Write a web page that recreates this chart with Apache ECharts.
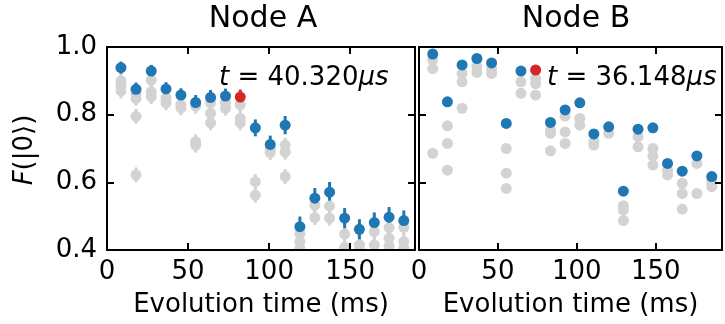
<!DOCTYPE html>
<html>
<head>
<meta charset="utf-8">
<script src="https://cdn.jsdelivr.net/npm/echarts@6/dist/echarts.min.js"></script>
<style>
html,body{margin:0;padding:0;background:#fff;}
#chart{width:725px;height:324px;}
</style>
</head>
<body>
<div id="chart"></div>
<script>
// ---------------- data ----------------
const titles = ['Node A', 'Node B'];
const xName = 'Evolution time (ms)';
const xTicks = [0, 50, 100, 150];
const yTicks = [0.4, 0.6, 0.8, 1.0];
const annotA = ['t', ' = 40.320', 'μs'];
const annotB = ['t', ' = 36.148', 'μs'];

const timesA = [8.6, 17.9, 27.3, 36.4, 45.6, 54.7, 63.9, 73.1, 82.2, 91.5, 100.7, 109.9, 119.0, 128.2, 137.3, 146.6, 155.7, 164.9, 174.0, 183.1];
const blueA = [0.939, 0.875, 0.929, 0.876, 0.858, 0.836, 0.851, 0.855, 0.852, 0.761, 0.712, 0.769, 0.469, 0.553, 0.571, 0.494, 0.461, 0.481, 0.497, 0.487];
const blueErrA = [0.018, 0.02, 0.018, 0.02, 0.02, 0.022, 0.022, 0.022, 0.022, 0.025, 0.026, 0.027, 0.03, 0.03, 0.03, 0.03, 0.03, 0.03, 0.03, 0.03];
const redIndexA = 8;
const grayA = [
  [0.900, 0.885, 0.870],
  [0.862, 0.848, 0.795, 0.622],
  [0.902, 0.868, 0.853],
  [0.850, 0.835],
  [0.830, 0.820],
  [0.825, 0.720, 0.710],
  [0.835, 0.804, 0.776],
  [0.836, 0.819],
  [0.830, 0.789, 0.776],
  [0.602, 0.562],
  [0.700, 0.688],
  [0.710, 0.689, 0.617],
  [0.449, 0.425, 0.405],
  [0.533, 0.496],
  [0.530, 0.494],
  [0.447, 0.408],
  [0.415, 0.400],
  [0.454, 0.415],
  [0.466, 0.435, 0.412],
  [0.467, 0.425, 0.405]
];
const grayErrA = 0.022;

const timesB = [8.7, 18.0, 27.3, 36.7, 46.0, 55.3, 64.6, 73.9, 83.3, 92.6, 101.9, 110.8, 120.2, 129.5, 138.8, 148.2, 157.5, 166.8, 176.1, 185.5];
const blueB = [0.979, 0.838, 0.947, 0.966, 0.953, 0.774, 0.929, 0.932, 0.777, 0.814, 0.835, 0.743, 0.764, 0.574, 0.757, 0.761, 0.656, 0.633, 0.678, 0.617];
const redIndexB = 7;
const grayB = [
  [0.962, 0.936, 0.686],
  [0.767, 0.715, 0.636],
  [0.922, 0.897, 0.819],
  [0.942, 0.925],
  [0.935, 0.922],
  [0.700, 0.627, 0.582],
  [0.897, 0.863],
  [0.907, 0.892, 0.858],
  [0.755, 0.745, 0.693],
  [0.796, 0.749, 0.715],
  [0.789, 0.769],
  [0.720, 0.710],
  [0.745],
  [0.531, 0.518, 0.487],
  [0.735, 0.705],
  [0.700, 0.678, 0.651],
  [0.636, 0.622],
  [0.597, 0.567, 0.521],
  [0.656, 0.567],
  [0.602, 0.587]
];

// ---------------- styles ----------------
const FONT = 'DejaVu Sans';
const BLUE = '#1f77b4', RED = '#d62728', GRAY = '#d3d3d3';
const MS = 11;
const chart = echarts.init(document.getElementById('chart'), null, {renderer: 'canvas'});

function lineAxisCommon() {
  return {
    axisLine: {show: true, onZero: false, lineStyle: {color: '#000', width: 2}},
    axisTick: {show: true, inside: true, length: 7, lineStyle: {color: '#000', width: 2}},
    splitLine: {show: false},
    z: 10
  };
}
function xAx(grid, max, pos, showLabel) {
  return Object.assign(lineAxisCommon(), {
    type: 'value', gridIndex: grid, position: pos, min: 0, max: max, interval: 50,
    axisLabel: {show: showLabel, margin: 9, fontSize: 26, fontFamily: FONT, color: '#000',
      formatter: v => (xTicks.indexOf(Math.round(v)) >= 0 && Math.abs(v - Math.round(v)) < 1e-6) ? String(Math.round(v)) : ''},
    name: showLabel ? xName : '', nameLocation: 'middle', nameGap: 42,
    nameTextStyle: {fontSize: 26, fontFamily: FONT, color: '#000'}
  });
}
function yAx(grid, pos, showLabel) {
  return Object.assign(lineAxisCommon(), {
    type: 'value', gridIndex: grid, position: pos, min: yTicks[0], max: yTicks[yTicks.length - 1], interval: 0.2,
    axisLabel: {show: showLabel, margin: 10, fontSize: 26, fontFamily: FONT, color: '#000', formatter: v => v.toFixed(1)}
  });
}

function errRender(params, api) {
  const x = api.value(0), lo = api.value(1), hi = api.value(2);
  const p1 = api.coord([x, hi]);
  const p2 = api.coord([x, lo]);
  const cs = params.coordSys;
  const r = echarts.graphic.clipRectByRect(
    {x: p1[0] - 1.5, y: p1[1], width: 3, height: p2[1] - p1[1]},
    {x: cs.x, y: cs.y, width: cs.width, height: cs.height});
  if (!r) return null;
  return {type: 'rect', shape: r, style: {fill: api.visual('color')}};
}

function grayPoints(times, gray) {
  const out = [];
  gray.forEach((arr, i) => arr.forEach(v => out.push([times[i], v])));
  return out;
}
function grayErr(times, gray, e) {
  const out = [];
  gray.forEach((arr, i) => arr.forEach(v => out.push([times[i], v - e, v + e])));
  return out;
}

const series = [];
// Panel A
series.push({type: 'custom', xAxisIndex: 0, yAxisIndex: 0, renderItem: errRender, itemStyle: {color: GRAY},
  encode: {x: 0, y: [1, 2]}, data: grayErr(timesA, grayA, grayErrA), z: 2, silent: true});
series.push({type: 'scatter', xAxisIndex: 0, yAxisIndex: 0, symbolSize: MS, itemStyle: {color: GRAY, opacity: 1},
  data: grayPoints(timesA, grayA), z: 2, silent: true});
series.push({type: 'custom', xAxisIndex: 0, yAxisIndex: 0, renderItem: errRender, itemStyle: {color: BLUE},
  encode: {x: 0, y: [1, 2]}, data: timesA.map((t, i) => [t, blueA[i] - blueErrA[i], blueA[i] + blueErrA[i]]).filter((d, i) => i !== redIndexA), z: 2, silent: true});
series.push({type: 'scatter', xAxisIndex: 0, yAxisIndex: 0, symbolSize: MS, itemStyle: {color: BLUE, opacity: 1},
  data: timesA.map((t, i) => [t, blueA[i]]).filter((d, i) => i !== redIndexA), z: 2, silent: true});
series.push({type: 'custom', xAxisIndex: 0, yAxisIndex: 0, renderItem: errRender, itemStyle: {color: RED},
  encode: {x: 0, y: [1, 2]}, data: [[timesA[redIndexA], blueA[redIndexA] - blueErrA[redIndexA], blueA[redIndexA] + blueErrA[redIndexA]]], z: 2, silent: true});
series.push({type: 'scatter', xAxisIndex: 0, yAxisIndex: 0, symbolSize: MS, itemStyle: {color: RED, opacity: 1},
  data: [[timesA[redIndexA], blueA[redIndexA]]], z: 2, silent: true});
// Panel B
series.push({type: 'scatter', xAxisIndex: 2, yAxisIndex: 2, symbolSize: MS, itemStyle: {color: GRAY, opacity: 1},
  data: grayPoints(timesB, grayB), z: 2, silent: true});
series.push({type: 'scatter', xAxisIndex: 2, yAxisIndex: 2, symbolSize: MS, itemStyle: {color: BLUE, opacity: 1},
  data: timesB.map((t, i) => [t, blueB[i]]).filter((d, i) => i !== redIndexB), z: 2, silent: true});
series.push({type: 'scatter', xAxisIndex: 2, yAxisIndex: 2, symbolSize: MS, itemStyle: {color: RED, opacity: 1},
  data: [[timesB[redIndexB], blueB[redIndexB]]], z: 2, silent: true});

const rich = {i: {fontStyle: 'italic', fontSize: 26, fontFamily: FONT, fill: '#000'}, n: {fontSize: 26, fontFamily: FONT, fill: '#000'}};
function annot(parts) { return '{i|' + parts[0] + '}{n|' + parts[1] + '}{i|' + parts[2] + '}'; }

const option = {
  animation: false,
  backgroundColor: '#fff',
  grid: [
    {left: 107, top: 47, width: 308, height: 203},
    {left: 419, top: 47, width: 309, height: 203}
  ],
  xAxis: [xAx(0, 190, 'bottom', true), xAx(0, 190, 'top', false), xAx(1, 192, 'bottom', true), xAx(1, 192, 'top', false)],
  yAxis: [yAx(0, 'left', true), yAx(0, 'right', false), yAx(1, 'left', false), yAx(1, 'right', false)],
  series: series,
  graphic: [
    {type: 'rect', left: 109, top: 251, shape: {width: 616, height: 7}, style: {fill: '#fff'}, z: 5, silent: true},
    {type: 'text', x: 263, y: 19, z: 20, style: {text: titles[0], font: '30px "DejaVu Sans"', fill: '#000', textAlign: 'center', textVerticalAlign: 'middle'}},
    {type: 'text', x: 576, y: 19, z: 20, style: {text: titles[1], font: '30px "DejaVu Sans"', fill: '#000', textAlign: 'center', textVerticalAlign: 'middle'}},
    {type: 'text', x: 219, y: 78, z: 20, style: {text: annot(annotA), rich: rich, textAlign: 'left', textVerticalAlign: 'middle'}},
    {type: 'text', x: 547, y: 78, z: 20, style: {text: annot(annotB), rich: rich, textAlign: 'left', textVerticalAlign: 'middle'}},
    {type: 'text', x: 25, y: 150, rotation: Math.PI / 2, z: 20, style: {text: '{i|F}{n|(|0⟩)}', rich: rich, textAlign: 'center', textVerticalAlign: 'middle'}}
  ]
};
chart.setOption(option);
</script>
</body>
</html>
